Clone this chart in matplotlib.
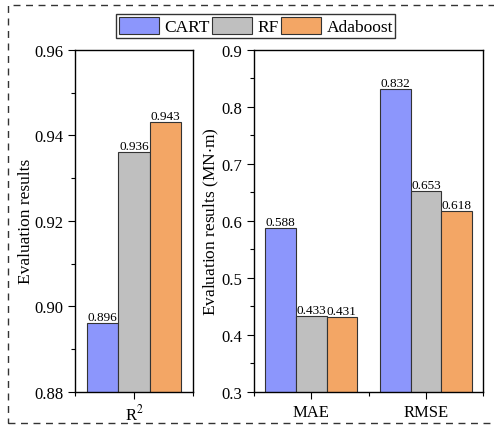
import numpy as np
import matplotlib.pyplot as plt
from matplotlib.patches import Rectangle
from matplotlib.ticker import MultipleLocator, FixedLocator

models = ["CART", "RF", "Adaboost"]
colors = ["#8C96FC", "#BFBFBF", "#F3A665"]

r2_cats = ["R$^2$"]
r2_vals = [[0.896], [0.936], [0.943]]

err_cats = ["MAE", "RMSE"]
err_vals = [[0.588, 0.832], [0.433, 0.653], [0.431, 0.618]]

plt.rcParams['font.family'] = ['Liberation Serif', 'DejaVu Serif']
plt.rcParams['mathtext.fontset'] = 'stix'

fig = plt.figure(figsize=(4.94, 4.27), dpi=100)
ax1 = fig.add_axes([0.152, 0.080, 0.239, 0.801])
ax2 = fig.add_axes([0.514, 0.080, 0.464, 0.801])

width = 0.267


def draw_group(ax, cats, vals):
    x = np.arange(len(cats))
    handles = []
    for i, (name, v) in enumerate(zip(models, vals)):
        pos = x + (i - 1) * width
        b = ax.bar(pos, v, width, color=colors[i], edgecolor='#333333',
                   linewidth=0.8, label=name)
        handles.append(b)
        for xx, vv in zip(pos, v):
            ax.text(xx, vv, f"{vv:.3f}", ha='center', va='bottom', fontsize=9.5)
    ax.set_xticks(x)
    ax.set_xticklabels(cats, fontsize=12)
    ax.set_xlim(-0.5, len(cats) - 0.5)
    ax.xaxis.set_minor_locator(FixedLocator(np.arange(len(cats) + 1) - 0.5))
    ax.tick_params(which='both', direction='out', labelsize=12)
    ax.tick_params(which='major', length=5, width=0.8)
    ax.tick_params(which='minor', length=3, width=0.8)
    for s in ax.spines.values():
        s.set_linewidth(1.0)
    return handles


handles = draw_group(ax1, r2_cats, r2_vals)
ax1.set_ylim(0.88, 0.96)
ax1.yaxis.set_major_locator(MultipleLocator(0.02))
ax1.yaxis.set_minor_locator(MultipleLocator(0.01))
ax1.yaxis.set_major_formatter(plt.FormatStrFormatter('%.2f'))
ax1.set_ylabel("Evaluation results", fontsize=12.5)
ax1.yaxis.set_label_coords(-0.35, 0.5)

draw_group(ax2, err_cats, err_vals)
ax2.set_ylim(0.3, 0.9)
ax2.yaxis.set_major_locator(MultipleLocator(0.1))
ax2.yaxis.set_minor_locator(MultipleLocator(0.05))
ax2.yaxis.set_major_formatter(plt.FormatStrFormatter('%.1f'))
ax2.set_ylabel("Evaluation results (MN$\\cdot$m)", fontsize=12.5)
ax2.yaxis.set_label_coords(-0.145, 0.5)

leg = fig.legend(handles, models, loc='center', bbox_to_anchor=(0.518, 0.937),
                 ncol=3, fontsize=12.5, frameon=True, fancybox=False,
                 edgecolor='black', handlelength=2.3, handleheight=1.15,
                 handletextpad=0.3, columnspacing=0.15, borderpad=0.15,
                 borderaxespad=0)
leg.get_frame().set_linewidth(1.0)

# dashed outer border
fig.patches.append(Rectangle((8 / 494, 3 / 427), 1.2, 418 / 427, transform=fig.transFigure,
                             fill=False, edgecolor='#333333', linestyle=(0, (5, 4)),
                             linewidth=1.0))

fig.savefig("out.png", dpi=100)
